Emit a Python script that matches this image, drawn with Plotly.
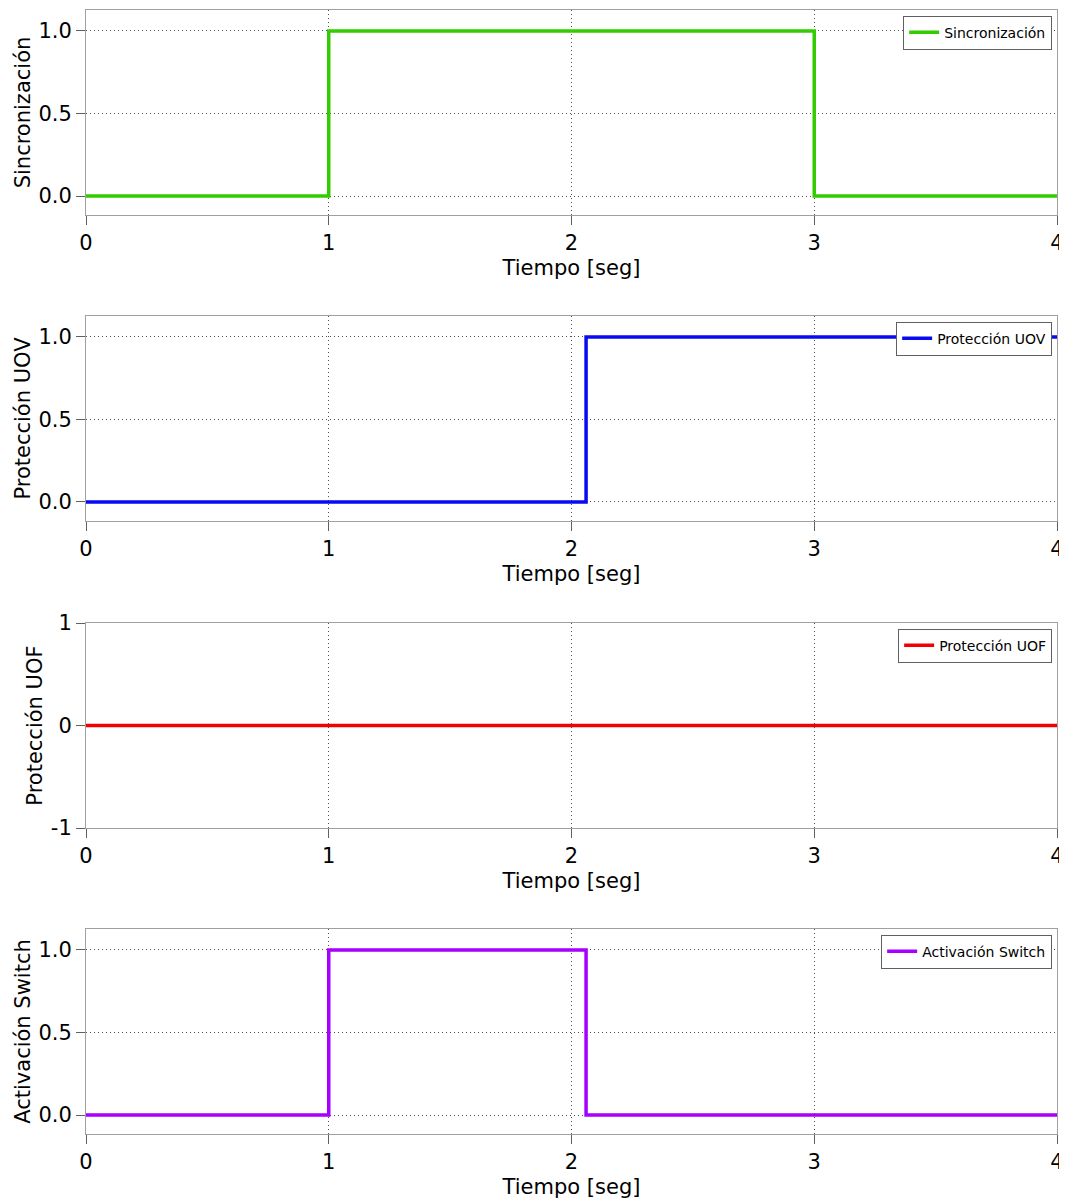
import plotly.graph_objects as go

# Data
t_sync = [0, 1, 3, 4]
v_sync = [0, 1, 0, 0]
t_uov = [0, 2.06, 4]
v_uov = [0, 1, 1]
t_uof = [0, 4]
v_uof = [0, 0]
t_sw = [0, 1, 2.06, 4]
v_sw = [0, 1, 0, 0]

names = ["Sincronización", "Protección UOV", "Protección UOF", "Activación Switch"]
colors = ["#33cc00", "#0a0af0", "#f00000", "#a600ff"]
series = [(t_sync, v_sync), (t_uov, v_uov), (t_uof, v_uof), (t_sw, v_sw)]
x_ticks = [0, 1, 2, 3, 4]

FONT = "DejaVu Sans"
fig = go.Figure()

domains = [[0.8176, 1.0], [0.5454, 0.7278], [0.2722, 0.4546], [0.0, 0.1824]]
yranges = [[-0.115, 1.127], [-0.115, 1.127], [-1, 1], [-0.115, 1.127]]
ytickvals = [[0, 0.5, 1], [0, 0.5, 1], [-1, 0, 1], [0, 0.5, 1]]
yticktext = [["0.0", "0.5", "1.0"], ["0.0", "0.5", "1.0"], ["-1", "0", "1"], ["0.0", "0.5", "1.0"]]

# page body has an 8px margin; compensate so plot areas land where the reference has them
layout = dict(
    width=1059, height=1194,
    margin=dict(l=78, r=10, t=2, b=68, autoexpand=False),
    paper_bgcolor="white", plot_bgcolor="white",
    font=dict(family=FONT, color="black"),
    showlegend=True,
)

for i in range(4):
    sfx = "" if i == 0 else str(i + 1)
    xs, ys = series[i]
    fig.add_trace(go.Scatter(
        x=xs, y=ys, mode="lines", line_shape="hv",
        line=dict(color=colors[i], width=3.5), name=names[i],
        xaxis="x" + sfx, yaxis="y" + sfx,
        legend="legend" + sfx,
    ))
    common = dict(
        showline=True, linecolor="#a0a0a0", linewidth=1, mirror=True,
        ticks="outside", ticklen=9, tickcolor="#606060", tickwidth=1,
        showgrid=True, gridcolor="#505050", griddash="1px,3px", gridwidth=1,
        zeroline=False, tickfont=dict(size=21, family=FONT), automargin=False,
    )
    layout["xaxis" + sfx] = dict(
        common, domain=[0, 1], range=[0, 4], tickvals=x_ticks,
        anchor="y" + sfx,
        title=dict(text="Tiempo [seg]", font=dict(size=21, family=FONT), standoff=6),
    )
    layout["yaxis" + sfx] = dict(
        common, domain=domains[i], range=yranges[i],
        tickvals=ytickvals[i], ticktext=yticktext[i], anchor="x" + sfx,
        title=dict(text=names[i], font=dict(size=21, family=FONT), standoff=2),
    )
    layout["legend" + sfx] = dict(
        x=0.995, y=domains[i][1] - 0.005, xanchor="right", yanchor="top",
        bgcolor="white", bordercolor="#606060", borderwidth=1,
        font=dict(size=14, family=FONT), itemwidth=30,
        tracegroupgap=0,
    )

fig.update_layout(**layout)
fig.write_html("out.html")
